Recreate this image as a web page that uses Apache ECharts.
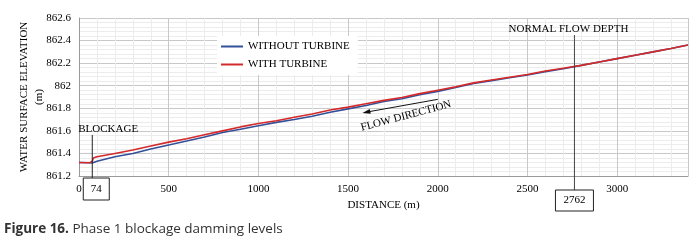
<!DOCTYPE html>
<html>
<head>
<meta charset="utf-8">
<script src="https://cdn.jsdelivr.net/npm/echarts@6/dist/echarts.min.js"></script>
<style>
  html, body {margin: 0; padding: 0; background: #fff;}
  #chart {width: 699px; height: 241px;}
</style>
</head>
<body>
<div id="chart"></div>
<script>
// distance along the channel (m) and water surface elevation (m)
const distance = [0, 60, 74, 80, 100, 200, 300, 400, 500, 600, 700, 800, 900, 1000, 1100, 1200, 1300, 1400, 1500, 1600, 1700, 1800, 1900, 2000, 2100, 2200, 2300, 2400, 2500, 2600, 2700, 2800, 2900, 3000, 3100, 3200, 3300, 3395]
const withoutTurbine = [861.32, 861.318, 861.315, 861.32, 861.33, 861.37, 861.40, 861.44, 861.475, 861.51, 861.545, 861.585, 861.615, 861.645, 861.675, 861.70, 861.73, 861.765, 861.795, 861.825, 861.86, 861.885, 861.92, 861.95, 861.985, 862.02, 862.045, 862.07, 862.095, 862.125, 862.15, 862.18, 862.21, 862.24, 862.27, 862.30, 862.33, 862.36]
const withTurbine = [861.32, 861.318, 861.33, 861.36, 861.37, 861.40, 861.43, 861.465, 861.50, 861.53, 861.565, 861.60, 861.635, 861.665, 861.69, 861.72, 861.75, 861.785, 861.81, 861.84, 861.87, 861.895, 861.93, 861.96, 861.99, 862.025, 862.05, 862.075, 862.10, 862.13, 862.155, 862.18, 862.21, 862.24, 862.27, 862.30, 862.33, 862.36]
const blockageAt = 74
const normalDepthAt = 2762

const serif = '"Liberation Serif", "DejaVu Serif", serif'
const chart = echarts.init(document.getElementById('chart'))

const option = {
  animation: false,
  textStyle: {fontFamily: serif},
  grid: {left: 79, right: 11, top: 18, bottom: 65, outerBoundsMode: 'none'},
  legend: {
    left: 217, top: 36,
    orient: 'vertical',
    itemGap: 7,
    itemWidth: 22, itemHeight: 10,
    padding: [5, 8, 5, 4],
    backgroundColor: '#fff',
    textStyle: {fontFamily: serif, fontSize: 11, color: '#000'},
    data: [
      {name: 'WITHOUT TURBINE', icon: 'path://M0,4 L22,4 L22,6 L0,6 Z'},
      {name: 'WITH TURBINE', icon: 'path://M0,4 L22,4 L22,6 L0,6 Z'}
    ]
  },
  xAxis: {
    type: 'value', min: 0, max: 3395, interval: 500,
    name: 'DISTANCE (m)', nameLocation: 'middle', nameGap: 24, nameMoveOverlap: false,
    nameTextStyle: {fontFamily: serif, fontSize: 11, color: '#000'},
    axisLine: {show: true, lineStyle: {color: '#999'}},
    axisTick: {show: false},
    axisLabel: {fontFamily: serif, fontSize: 11, color: '#000', margin: 8, showMaxLabel: false, formatter: v => String(v)},
    splitLine: {lineStyle: {color: '#c8c8c8'}},
    minorTick: {show: false, splitNumber: 5},
    minorSplitLine: {show: true, lineStyle: {color: '#ececec'}}
  },
  yAxis: {
    type: 'value', min: 861.2, max: 862.6, interval: 0.2,
    name: 'WATER SURFACE ELEVATION\n(m)', nameLocation: 'middle', nameGap: 32, nameRotate: 90, nameMoveOverlap: false,
    nameTextStyle: {fontFamily: serif, fontSize: 11, color: '#000', lineHeight: 15},
    axisLine: {show: true, lineStyle: {color: '#999'}},
    axisTick: {show: false},
    axisLabel: {
      fontFamily: serif, fontSize: 11, color: '#000', margin: 8,
      formatter: v => String(parseFloat(v.toFixed(1)))
    },
    splitLine: {lineStyle: {color: '#c8c8c8'}},
    minorTick: {show: false, splitNumber: 5},
    minorSplitLine: {show: true, lineStyle: {color: '#ececec'}}
  },
  series: [
    {
      name: 'WITHOUT TURBINE', type: 'line', showSymbol: false,
      data: distance.map((d, i) => [d, withoutTurbine[i]]),
      lineStyle: {color: '#34509a', width: 1.6}, itemStyle: {color: '#34509a'}
    },
    {
      name: 'WITH TURBINE', type: 'line', showSymbol: false,
      data: distance.map((d, i) => [d, withTurbine[i]]),
      lineStyle: {color: '#d42a2a', width: 1.6}, itemStyle: {color: '#d42a2a'}
    }
  ]
}
chart.setOption(option)

// annotations placed from the axis scales
const bx = chart.convertToPixel({xAxisIndex: 0}, blockageAt)
const nx = chart.convertToPixel({xAxisIndex: 0}, normalDepthAt)
const fa = chart.convertToPixel({gridIndex: 0}, [2000, 861.95])
const fb = chart.convertToPixel({gridIndex: 0}, [1580, 861.855])
const ax = fa[0], ay = fa[1] + 8, tx = fb[0], ty = fb[1] + 11
const lbl = {fontFamily: serif, fontSize: 11, fill: '#000'}
const capFont = '"Open Sans", "Noto Sans", sans-serif'
chart.setOption({
  graphic: [
    {type: 'text', x: bx - 14, y: 129, style: Object.assign({text: 'BLOCKAGE', align: 'left', verticalAlign: 'middle'}, lbl), z: 10},
    {type: 'line', shape: {x1: bx, y1: 135, x2: bx, y2: 178}, style: {stroke: '#222', lineWidth: 1}, z: 10},
    {type: 'rect', shape: {x: bx - 9, y: 178, width: 26, height: 22}, style: {fill: '#fff', stroke: '#222', lineWidth: 1}, z: 10},
    {type: 'text', x: bx + 4, y: 189, style: Object.assign({text: String(blockageAt), align: 'center', verticalAlign: 'middle'}, lbl), z: 11},
    {type: 'text', x: nx - 6, y: 29, style: Object.assign({text: 'NORMAL FLOW DEPTH', align: 'center', verticalAlign: 'middle'}, lbl), z: 10},
    {type: 'line', shape: {x1: nx, y1: 35, x2: nx, y2: 190}, style: {stroke: '#444', lineWidth: 1}, z: 10},
    {type: 'rect', shape: {x: nx - 19, y: 190, width: 38, height: 21}, style: {fill: '#fff', stroke: '#222', lineWidth: 1}, z: 10},
    {type: 'text', x: nx, y: 200.5, style: Object.assign({text: String(normalDepthAt), align: 'center', verticalAlign: 'middle'}, lbl), z: 11},
    {type: 'line', shape: {x1: ax, y1: ay, x2: tx + 6, y2: ty - 1.3}, style: {stroke: '#111', lineWidth: 1}, z: 10},
    {type: 'polygon', shape: {points: [[tx, ty], [tx + 8.4, ty + 0.7], [tx + 7.3, ty - 4.2]]}, style: {fill: '#111'}, z: 10},
    {type: 'text', x: 406, y: 116, rotation: 0.26, style: Object.assign({text: 'FLOW DIRECTION', align: 'center', verticalAlign: 'middle'}, lbl), z: 10},
    {type: 'text', x: 4, y: 229, style: {text: '{b|Figure 16.} Phase 1 blockage damming levels', verticalAlign: 'middle', fontFamily: capFont, fontSize: 13.5, fill: '#333', rich: {b: {fontWeight: 'bold', fontFamily: capFont, fontSize: 13.5, fill: '#333'}}}, z: 10}
  ]
})
</script>
</body>
</html>
